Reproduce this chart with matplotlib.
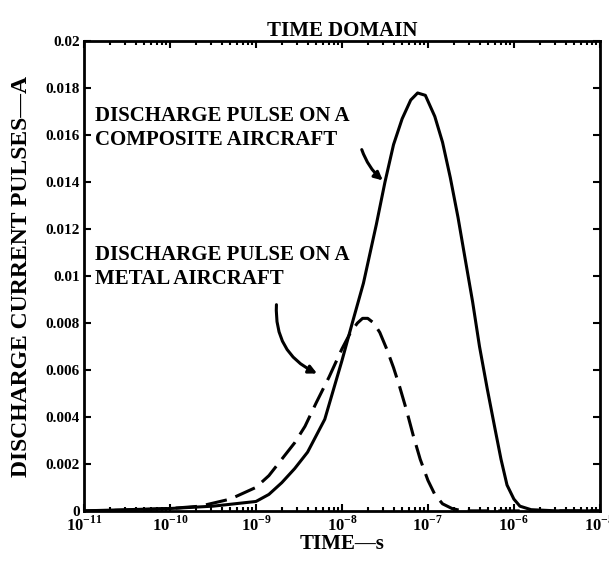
import numpy as np
import matplotlib
matplotlib.use("Agg")
import matplotlib.pyplot as plt

plt.rcParams['font.family'] = 'Liberation Serif'
plt.rcParams['font.weight'] = 'bold'
plt.rcParams['mathtext.fontset'] = 'custom'
plt.rcParams['mathtext.rm'] = 'Liberation Serif:bold'
plt.rcParams['mathtext.bf'] = 'Liberation Serif:bold'

# Composite aircraft pulse (solid), x as log10(time)
composite_logt = [-11.0, -10.5, -10.0, -9.5, -9.0, -8.85, -8.7, -8.55, -8.4, -8.2,
                  -8.0, -7.88, -7.75, -7.6, -7.5, -7.4, -7.3, -7.2, -7.12, -7.03,
                  -6.92, -6.83, -6.74, -6.65, -6.57, -6.48, -6.40, -6.31, -6.22, -6.15,
                  -6.08, -6.0, -5.93, -5.8, -5.5, -5.0]
composite_i = [0.0, 0.00005, 0.0001, 0.0002, 0.0004, 0.0007, 0.0012, 0.0018, 0.0025, 0.0039,
               0.0064, 0.0080, 0.0097, 0.0122, 0.0140, 0.0156, 0.0167, 0.0175, 0.0178, 0.0177,
               0.0168, 0.0157, 0.0142, 0.0125, 0.0108, 0.0089, 0.0070, 0.0052, 0.0035, 0.0022,
               0.0011, 0.0005, 0.0002, 0.00005, 0.0, 0.0]

# Metal aircraft pulse (dashed)
metal_logt = [-11.0, -10.5, -10.0, -9.65, -9.3, -9.0, -8.85, -8.7, -8.55, -8.43,
              -8.3, -8.15, -8.0, -7.9, -7.82, -7.76, -7.7, -7.63, -7.56, -7.48,
              -7.40, -7.33, -7.25, -7.17, -7.09, -7.0, -6.92, -6.83, -6.72, -6.6,
              -6.0, -5.0]
metal_i = [0.0, 0.00003, 0.0001, 0.0002, 0.0005, 0.001, 0.0015, 0.0022, 0.0029, 0.0036,
           0.0046, 0.0057, 0.0069, 0.0076, 0.0080, 0.0082, 0.0082, 0.0080, 0.0076, 0.0069,
           0.0061, 0.0053, 0.0043, 0.0032, 0.0022, 0.0013, 0.0007, 0.0003, 0.0001, 0.0,
           0.0, 0.0]

xticks = [1e-11, 1e-10, 1e-9, 1e-8, 1e-7, 1e-6, 1e-5]
xticklabels = [r'$10^{-11}$', r'$10^{-10}$', r'$10^{-9}$', r'$10^{-8}$',
               r'$10^{-7}$', r'$10^{-6}$', r'$10^{-5}$']
yticks = [0, 0.002, 0.004, 0.006, 0.008, 0.01, 0.012, 0.014, 0.016, 0.018, 0.02]
yticklabels = ['0', '0.002', '0.004', '0.006', '0.008', '0.01', '0.012',
               '0.014', '0.016', '0.018', '0.02']

fig = plt.figure(figsize=(6.09, 5.74), dpi=100)
ax = fig.add_axes([0.138, 0.11, 0.847, 0.818])

ax.plot(10.0 ** np.array(composite_logt), composite_i, color='black', lw=2.2)
ax.plot(10.0 ** np.array(metal_logt), metal_i, color='black', lw=2.2,
        linestyle=(0, (7, 3)))

ax.set_xscale('log')
ax.set_xlim(1e-11, 1e-5)
ax.set_ylim(0, 0.02)
ax.set_xticks(xticks)
ax.set_xticklabels(xticklabels, fontsize=12)
ax.set_yticks(yticks)
ax.set_yticklabels(yticklabels, fontsize=11)
ax.tick_params(which='both', direction='in', top=True, right=True, width=1.5)
ax.tick_params(which='major', length=5, pad=3)
ax.tick_params(which='minor', length=3)
for s in ax.spines.values():
    s.set_linewidth(2.0)

ax.set_title('TIME DOMAIN', fontsize=15, fontweight='bold', pad=4)
ax.set_xlabel('TIME—s', fontsize=15, fontweight='bold', labelpad=0)
ax.set_ylabel('DISCHARGE CURRENT PULSES—A', fontsize=17, fontweight='bold')
ax.yaxis.set_label_coords(-0.1, 0.5)

# Annotations
ax.text(10 ** -10.87, 0.0163, 'DISCHARGE PULSE ON A\nCOMPOSITE AIRCRAFT',
        fontsize=15, fontweight='bold', va='center', ha='left', linespacing=1.25)
ax.text(10 ** -10.87, 0.0104, 'DISCHARGE PULSE ON A\nMETAL AIRCRAFT',
        fontsize=15, fontweight='bold', va='center', ha='left', linespacing=1.25)

ax.annotate('', xy=(10 ** -7.50, 0.0140), xytext=(10 ** -7.78, 0.0155),
            arrowprops=dict(arrowstyle='-|>', color='black', lw=2.2,
                            connectionstyle='arc3,rad=0.15', mutation_scale=12))
ax.annotate('', xy=(10 ** -8.26, 0.0058), xytext=(10 ** -8.76, 0.0089),
            arrowprops=dict(arrowstyle='-|>', color='black', lw=2.2,
                            connectionstyle='arc3,rad=0.35', mutation_scale=12))

fig.savefig('out.png', dpi=100)
